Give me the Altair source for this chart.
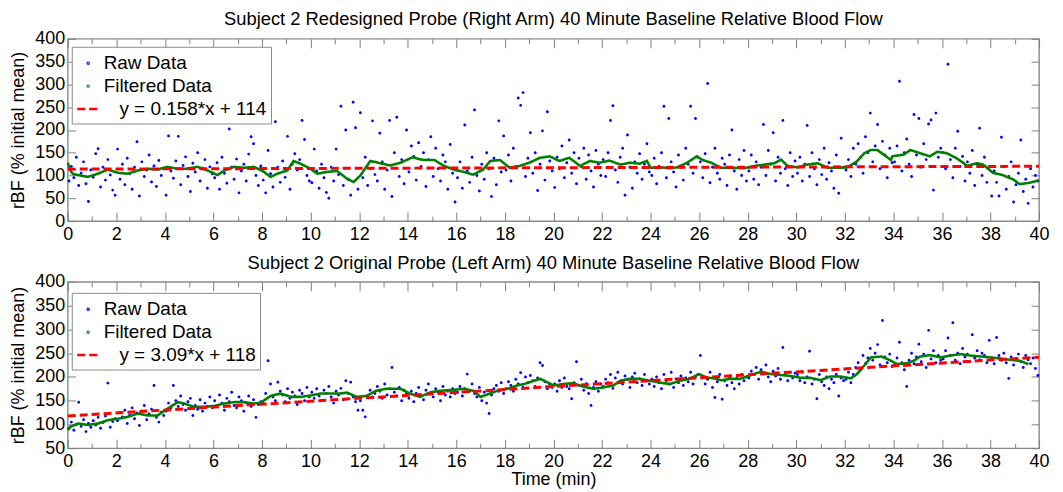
import altair as alt
import pandas as pd

FONT = "Liberation Sans"
BLUE = "#0000ff"
GREEN = "#008000"
RED = "#ff0000"
TICK = "#808080"
DOT = "M0.045,0A0.045,0.045,0,1,1,-0.045,0A0.045,0.045,0,1,1,0.045,0Z"
DASH = "M-1,0L1,0"
INDENT = "\u200b\u00a0\u00a0\u00a0"

# ---------------- text ----------------
top_title = "Subject 2 Redesigned Probe (Right Arm) 40 Minute Baseline Relative Blood Flow"
bottom_title = "Subject 2 Original Probe (Left Arm) 40 Minute Baseline Relative Blood Flow"
series_names = ["Raw Data", "Filtered Data"]
top_fit_label = INDENT + "y = 0.158*x + 114"
bottom_fit_label = INDENT + "y = 3.09*x + 118"
y_title = "rBF (% initial mean)"
x_title = "Time (min)"

# ---------------- ticks ----------------
x_label_values = list(range(0, 41, 2))
x_minor_values = list(range(1, 40, 2))
top_y_ticks = [0, 50, 100, 150, 200, 250, 300, 350, 400]
bottom_y_ticks = [50, 100, 150, 200, 250, 300, 350, 400]

# ---------------- top panel data ----------------
top_raw_value = [
    88, 120, 95, 140, 78, 105, 130, 82, 43, 112, 96, 148, 159, 75, 118, 90, 135, 101, 68, 57,
    158, 92, 125, 80, 138, 104, 70, 118, 174, 55, 130, 98, 112, 145, 86, 121, 76, 133, 100, 115,
    57, 187, 110, 94, 132, 186, 80, 122, 141, 98, 65, 127, 108, 150, 88, 116, 135, 72, 119, 104,
    95, 128, 70, 140, 105, 83, 202, 118, 92, 136, 62, 110, 125, 88, 147, 185, 170, 100, 78, 121,
    90, 62, 155, 104, 75, 218, 118, 85, 132, 96, 186, 70, 125, 148, 112, 135, 221, 179, 100, 88,
    84, 158, 110, 72, 125, 95, 63, 50, 118, 88, 158, 102, 252, 78, 200, 92, 57, 261, 205, 70,
    238, 95, 140, 78, 115, 220, 102, 88, 193, 130, 70, 112, 221, 54, 150, 228, 98, 135, 82, 200,
    108, 165, 142, 90, 172, 120, 150, 76, 135, 185, 98, 160, 115, 88, 145, 130, 70, 168, 105, 42,
    95, 130, 72, 211, 110, 85, 140, 244, 100, 66, 125, 92, 150, 115, 54, 138, 80, 220, 108, 187,
    112, 145, 88, 160, 120, 270, 254, 282, 98, 138, 194, 105, 150, 67, 125, 198, 90, 240, 132, 110,
    74, 140, 115, 165, 95, 128, 178, 105, 150, 82, 138, 120, 160, 92, 145, 110, 75, 155, 125, 100,
    135, 98, 150, 221, 253, 112, 85, 140, 160, 57, 189, 118, 72, 130, 105, 148, 92, 125, 170, 108,
    100, 138, 82, 120, 150, 252, 95, 225, 130, 108, 75, 145, 118, 90, 160, 125, 252, 105, 225, 140,
    130, 95, 148, 302, 84, 118, 160, 105, 92, 138, 125, 78, 145, 200, 110, 70, 135, 100, 155, 88,
    110, 145, 92, 130, 80, 118, 212, 100, 155, 125, 194, 88, 140, 105, 221, 115, 78, 150, 98, 132,
    105, 140, 88, 125, 210, 98, 150, 115, 80, 135, 102, 160, 92, 128, 110, 72, 145, 61, 182, 118,
    112, 135, 98, 160, 125, 170, 140, 105, 185, 150, 237, 130, 165, 212, 115, 175, 145, 95, 160, 128,
    130, 165, 307, 110, 150, 180, 125, 98, 234, 145, 225, 118, 170, 135, 213, 222, 68, 237, 140, 160,
    150, 115, 344, 135, 95, 160, 197, 120, 142, 88, 130, 105, 155, 78, 125, 204, 100, 140, 85, 118,
    55, 110, 85, 55, 184, 120, 70, 98, 130, 42, 80, 105, 178, 65, 92, 39, 115, 75, 100, 88,
]
top_filt_time = [
    0.0, 0.1, 0.2, 0.42, 0.83, 1.24, 1.65, 2.06, 2.47, 2.88, 3.29, 3.7, 4.1, 4.5, 4.9, 5.35,
    5.76, 6.17, 6.44, 6.85, 7.26, 7.67, 8.08, 8.35, 8.63, 9.04, 9.3, 9.58, 9.99, 10.27, 10.68,
    11.09, 11.5, 11.77, 12.05, 12.46, 12.87, 13.28, 13.7, 14.2, 14.65, 15.1, 15.5, 15.9, 16.3,
    16.7, 17.1, 17.4, 17.8, 18.2, 18.6, 19.0, 19.45, 19.85, 20.25, 20.65, 21.1, 21.5, 21.9,
    22.3, 22.75, 23.15, 23.55, 23.85, 24.0, 24.4, 24.8, 25.1, 25.5, 25.9, 26.15, 26.5, 26.9,
    27.3, 27.87, 28.28, 28.7, 29.1, 29.37, 29.65, 30.06, 30.47, 30.88, 31.29, 31.7, 32.1, 32.5,
    32.8, 33.07, 33.34, 33.6, 33.9, 33.95, 34.43, 34.7, 35.1, 35.5, 35.8, 36.2, 36.6, 36.9,
    37.03, 37.44, 37.7, 38.1, 38.5, 38.95, 39.2, 39.6, 39.97,
]
top_filt_value = [
    128, 112, 104, 101, 97, 104, 113, 106, 104, 111, 115, 113, 119, 115, 115, 119,
    111, 101, 111, 119, 117, 119, 108, 97, 104, 111, 132, 126, 115, 104, 108,
    110, 93, 86, 100, 132, 127, 122, 128, 140, 134, 134, 121, 113, 108,
    102, 113, 132, 134, 117, 121, 128, 139, 142, 132, 139, 121, 132, 128,
    133, 124, 128, 126, 132, 117, 118, 116, 118, 128, 142, 134, 128, 117,
    117, 116, 121, 124, 127, 135, 121, 118, 124, 127, 117, 117, 118, 131,
    149, 156, 156, 146, 134, 142, 146, 156, 149, 142, 152, 149, 138, 127,
    121, 127, 124, 106, 101, 91, 81, 84, 89,
]
fit_time = [0, 40]
top_fit_value = [114, 120.3]

# ---------------- bottom panel data ----------------
bottom_raw_value = [
    92, 105, 88, 100, 147, 96, 110, 85, 102, 94, 108, 99, 115, 92, 104, 118, 187, 94, 106, 112,
    108, 125, 116, 130, 102, 120, 135, 112, 124, 98, 128, 140, 110, 122, 132, 182, 115, 105, 126, 119,
    128, 145, 135, 182, 150, 138, 160, 142, 130, 148, 155, 119, 140, 132, 152, 128, 145, 138, 158, 135,
    150, 138, 162, 145, 130, 155, 148, 168, 140, 135, 158, 150, 128, 145, 160, 138, 152, 115, 142, 148,
    145, 165, 234, 185, 158, 150, 189, 170, 162, 148, 175, 155, 168, 160, 142, 172, 165, 150, 178, 158,
    168, 155, 175, 160, 150, 172, 165, 180, 158, 145, 170, 162, 176, 152, 192, 165, 189, 158, 148, 130,
    150, 130, 116, 160, 172, 158, 165, 180, 170, 155, 185, 162, 175, 220, 168, 160, 178, 150, 172, 165,
    155, 170, 148, 165, 178, 160, 152, 172, 185, 165, 158, 175, 168, 150, 180, 162, 170, 158, 175, 165,
    168, 180, 160, 175, 206, 170, 185, 165, 158, 178, 150, 168, 145, 123, 162, 175, 182, 170, 188, 165,
    175, 190, 182, 170, 195, 185, 209, 178, 200, 188, 203, 192, 180, 198, 230, 224, 190, 175, 185, 178,
    185, 170, 192, 178, 198, 180, 175, 154, 188, 232, 182, 195, 172, 186, 165, 140, 178, 190, 170, 185,
    180, 195, 188, 205, 176, 198, 210, 190, 185, 202, 195, 178, 200, 208, 188, 196, 182, 205, 192, 185,
    195, 180, 200, 188, 175, 205, 192, 185, 210, 178, 196, 188, 202, 182, 198, 190, 210, 185, 200, 205,
    245, 200, 185, 195, 210, 178, 157, 190, 205, 153, 192, 182, 200, 188, 175, 198, 185, 205, 192, 200,
    198, 212, 205, 220, 195, 215, 208, 225, 200, 190, 212, 202, 218, 195, 262, 205, 192, 210, 198, 208,
    205, 192, 210, 188, 200, 254, 185, 195, 154, 205, 190, 182, 200, 175, 195, 188, 205, 160, 198, 192,
    195, 210, 188, 205, 220, 230, 215, 245, 228, 240, 260, 235, 250, 268, 225, 319, 242, 230, 248, 222,
    225, 240, 273, 230, 215, 180, 235, 250, 228, 242, 269, 232, 248, 220, 298, 238, 255, 230, 245, 235,
    238, 255, 282, 245, 314, 235, 250, 228, 260, 242, 248, 232, 289, 240, 255, 236, 250, 245, 230, 277,
    240, 228, 283, 245, 235, 250, 230, 197, 242, 225, 238, 248, 232, 220, 245, 236, 228, 240, 218, 203,
]
bottom_filt_time = [
    0.0, 0.1, 0.42, 0.83, 1.24, 1.65, 2.06, 2.47, 2.88, 3.29, 3.7, 4.1, 4.53, 4.8, 5.2, 5.6,
    6.03, 6.44, 6.85, 7.26, 7.67, 7.95, 8.35, 8.76, 9.2, 9.6, 10.0, 10.4, 10.8, 11.2, 11.5,
    11.9, 12.3, 12.7, 13.1, 13.7, 14.1, 14.5, 14.95, 15.36, 15.9, 16.3, 16.7, 17.0, 17.27,
    17.7, 18.1, 18.5, 18.8, 19.2, 19.46, 19.74, 20.0, 20.4, 20.8, 21.2, 21.65, 22.06, 22.47,
    22.75, 23.15, 23.57, 23.98, 24.4, 24.8, 25.2, 25.6, 26.0, 26.3, 26.6, 26.9, 27.3, 27.7,
    28.14, 28.55, 28.96, 29.37, 29.78, 30.2, 30.6, 31.0, 31.4, 31.8, 32.25, 32.5, 32.8, 33.07,
    33.5, 33.75, 34.16, 34.57, 34.84, 35.1, 35.5, 35.94, 36.35, 36.76, 37.17, 37.6, 38.0,
    38.4, 38.8, 39.2, 39.56,
]
bottom_filt_value = [
    88, 95, 102, 99, 102, 109, 112, 116, 123, 119, 119, 133, 147, 144, 137, 137,
    139, 144, 147, 147, 144, 146, 160, 165, 158, 158, 161, 165, 165, 165, 167,
    158, 160, 171, 175, 175, 165, 158, 168, 171, 173, 175, 171, 158, 163,
    171, 175, 182, 185, 192, 196, 189, 182, 185, 187, 180, 175, 178, 182,
    192, 196, 196, 192, 188, 185, 192, 196, 206, 199, 197, 193, 196, 196,
    204, 211, 206, 204, 202, 198, 198, 193, 201, 201, 197, 206, 224, 241,
    243, 238, 227, 229, 234, 243, 246, 241, 245, 248, 245, 243, 241,
    239, 236, 234, 227,
]
bottom_fit_value = [118, 241.6]


def raw_times(values):
    n = len(values)
    return [(i + 0.5) * 40.0 / n for i in range(n)]


def tick_axis(orient, values, size):
    # tick-only axis pushed inside the frame so that its ticks point inwards
    return alt.Axis(orient=orient, values=values, labels=False, ticks=True, tickSize=size,
                    offset=-size, domain=False, grid=False, title=None,
                    tickColor=TICK, tickWidth=1)


def panel(raw_value, filt_time, filt_value, fit_value, fit_label, title,
          y_domain, y_ticks, height, legend_y, show_x_title):
    names = [series_names[0], series_names[1], fit_label]
    raw_df = pd.DataFrame({"t": raw_times(raw_value), "v": raw_value, "s": names[0]})
    filt_df = pd.DataFrame({"t": filt_time, "v": filt_value, "s": names[1]})
    fit_df = pd.DataFrame({"t": fit_time, "v": fit_value, "s": names[2]})

    xs = alt.Scale(domain=[0, 40], nice=False, zero=False)
    ys = alt.Scale(domain=y_domain, nice=False, zero=False)
    cs = alt.Scale(domain=names, range=[BLUE, GREEN, RED])
    ss = alt.Scale(domain=names, range=[DOT, DOT, DASH])
    ds = alt.Scale(domain=names, range=[[1, 0], [1, 0], [8, 4]])

    legend = alt.Legend(
        title=None, orient="none", legendX=4, legendY=legend_y,
        fillColor="white", strokeColor="#8a8a8a", padding=4, rowPadding=0,
        labelFont=FONT, labelFontSize=19, labelColor="black", labelLimit=400,
        labelOffset=3, symbolSize=484, symbolStrokeWidth=2.5, symbolOpacity=1,
    )

    x_axis = alt.Axis(
        values=x_label_values, labelOverlap=False, labelFlush=False, ticks=False, tickSize=0,
        labelPadding=4, domain=False, grid=False,
        title=(x_title if show_x_title else None), titlePadding=0,
    )
    y_axis = alt.Axis(
        values=y_ticks, ticks=False, tickSize=0, labelPadding=3, labelFlush=False,
        domain=False, grid=False, title=y_title, titlePadding=7,
    )

    def enc(axis_x, axis_y):
        return dict(x=alt.X("t:Q", scale=xs, axis=axis_x), y=alt.Y("v:Q", scale=ys, axis=axis_y))

    color = alt.Color("s:N", scale=cs, legend=legend)
    dash = alt.StrokeDash("s:N", scale=ds, legend=legend)

    raw = alt.Chart(raw_df).mark_point(filled=True, size=4200, opacity=1).encode(
        **enc(x_axis, y_axis), color=color, strokeDash=dash,
        shape=alt.Shape("s:N", scale=ss, legend=legend),
    )
    filt = alt.Chart(filt_df).mark_line(strokeWidth=2.6).encode(
        **enc(x_axis, y_axis), color=color, strokeDash=dash,
    )
    fit = alt.Chart(fit_df).mark_line(strokeWidth=3).encode(
        **enc(tick_axis("bottom", x_label_values, 9), tick_axis("left", y_ticks, 8)),
        color=color, strokeDash=dash,
    )
    ghost = alt.Chart(fit_df).mark_line(opacity=0, strokeWidth=0)
    g1 = ghost.encode(**enc(tick_axis("bottom", x_minor_values, 5), tick_axis("right", y_ticks, 8)))
    g2 = ghost.encode(**enc(tick_axis("top", x_label_values, 9), None))
    g3 = ghost.encode(**enc(tick_axis("top", x_minor_values, 5), None))

    inner = alt.layer(raw, filt)
    return alt.layer(inner, fit, g1, g2, g3).resolve_scale(
        x="independent", y="independent"
    ).properties(
        width=975, height=height,
        title=alt.TitleParams(title, font=FONT, fontSize=18.4, fontWeight="normal",
                              color="black", anchor="middle", frame="group", offset=1),
    )


top = panel(top_raw_value, top_filt_time, top_filt_value, top_fit_value, top_fit_label,
            top_title, [0, 400], top_y_ticks, 183, 8, False)
bottom = panel(bottom_raw_value, bottom_filt_time, bottom_filt_value, bottom_fit_value,
               bottom_fit_label, bottom_title, [50, 400], bottom_y_ticks, 167, 11, True)

chart = (
    alt.vconcat(top, bottom, spacing=8)
    .resolve_scale(x="independent", y="independent", color="independent",
                   shape="independent", strokeDash="independent")
    .resolve_legend(color="independent", shape="independent", strokeDash="independent")
    .properties(padding={"left": 1, "right": 5, "top": 0, "bottom": 0})
    .configure_view(stroke="#8a8a8a", strokeWidth=1.4)
    .configure_axis(labelFont=FONT, labelFontSize=18, labelColor="black",
                    titleFont=FONT, titleFontSize=18, titleFontWeight="normal",
                    titleColor="black", tickColor=TICK, tickWidth=1)
)

chart.save("out.html", embed_options={"renderer": "svg", "actions": False})
